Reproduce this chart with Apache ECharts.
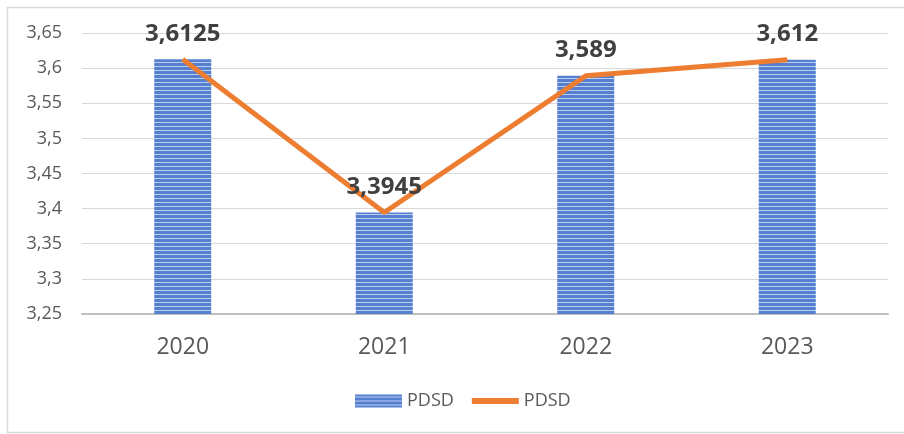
<!DOCTYPE html>
<html>
<head>
<meta charset="utf-8">
<script src="https://cdn.jsdelivr.net/npm/echarts@6/dist/echarts.min.js"></script>
<style>
  html, body { margin: 0; padding: 0; background: #fff; }
  #main { width: 904px; height: 434px; }
</style>
</head>
<body>
<div id="main"></div>
<script>
const years = ['2020', '2021', '2022', '2023'];
const barValues = [3.6125, 3.3945, 3.589, 3.612];
const lineValues = [3.6125, 3.3945, 3.589, 3.612];
const seriesName = 'PDSD';

// striped fill for the bars
function stripes() {
  const c = document.createElement('canvas');
  c.width = 8; c.height = 4;
  const ctx = c.getContext('2d');
  ctx.fillStyle = '#5580d0';
  ctx.fillRect(0, 0, 8, 4);
  ctx.fillStyle = '#bccdf0';
  ctx.fillRect(0, 2, 8, 1);
  return c;
}

const fmt = v => parseFloat(Number(v).toFixed(4)).toString().replace('.', ',');

const chart = echarts.init(document.getElementById('main'));
const option = {
  animation: false,
  textStyle: { fontFamily: 'Open Sans, Noto Sans, sans-serif' },
  graphic: [{
    type: 'rect',
    shape: { x: 7.5, y: 7.5, width: 910, height: 425 },
    style: { fill: 'none', stroke: '#d9d9d9', lineWidth: 1.5 },
    silent: true
  }],
  grid: { left: 82, right: 16, top: 33, bottom: 120 },
  legend: {
    bottom: 19,
    left: 350,
    itemGap: 18,
    itemWidth: 47,
    itemHeight: 13,
    textStyle: { fontSize: 18, color: '#595959' },
    data: [
      { name: seriesName, icon: 'rect' },
      { name: seriesName + ' ', icon: 'path://M0,0 L48,0 L48,6 L0,6 Z' }
    ],
    formatter: n => n.trim()
  },
  xAxis: {
    type: 'category',
    data: years,
    axisTick: { show: false },
    axisLine: { lineStyle: { color: '#bfbfbf', width: 2 } },
    axisLabel: { fontSize: 23, color: '#595959', margin: 22 }
  },
  yAxis: {
    type: 'value',
    min: 3.25,
    max: 3.65,
    interval: 0.05,
    axisLine: { show: false },
    axisTick: { show: false },
    splitLine: { lineStyle: { color: '#d9d9d9', width: 1 } },
    axisLabel: { fontSize: 18, color: '#595959', margin: 20, formatter: fmt }
  },
  series: [
    {
      name: seriesName,
      type: 'bar',
      data: barValues,
      barWidth: 57,
      itemStyle: { color: { image: stripes(), repeat: 'repeat' } },
      z: 2
    },
    {
      name: seriesName + ' ',
      type: 'line',
      data: lineValues,
      symbol: 'circle',
      symbolSize: 1,
      lineStyle: { color: '#ed7d31', width: 5 },
      itemStyle: { color: '#ed7d31' },
      label: {
        show: true,
        position: 'top',
        distance: 13,
        fontSize: 24,
        fontWeight: 'bold',
        color: '#404040',
        formatter: p => fmt(p.value)
      },
      z: 3
    }
  ]
};
chart.setOption(option);
</script>
</body>
</html>
